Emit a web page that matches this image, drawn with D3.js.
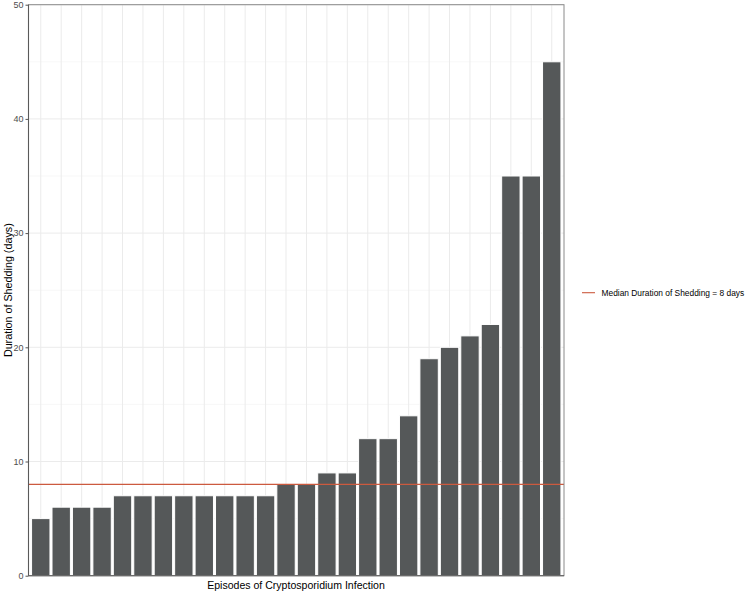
<!DOCTYPE html>
<html><head><meta charset="utf-8">
<script src="https://cdn.jsdelivr.net/npm/d3@7"></script>
<style>body{margin:0;background:#fff;} svg{display:block;font-family:"Liberation Sans",Arial,sans-serif;}</style>
</head><body>
<svg id="c" width="747" height="593"></svg>
<script>
const episodes = d3.range(1, 27).map(String);
const durations = [5,6,6,6,7,7,7,7,7,7,7,7,8,8,9,9,12,12,14,19,20,21,22,35,35,45];
const yTicks = [0,10,20,30,40,50];
const yMinor = [5,15,25,35,45];
const medianValue = 8;
const legendLabel = "Median Duration of Shedding = 8 days";
const xTitle = "Episodes of Cryptosporidium Infection";
const yTitle = "Duration of Shedding (days)";

const svg = d3.select("#c");
const L = 28.5, R = 564, T = 4.7, B = 575.7;
const n = episodes.length;
const step = (R - L) / (n - 1 + 1.2);
const xc = d3.scalePoint().domain(episodes).range([L + 0.6*step, R - 0.6*step]);
const bw = step * 0.9;
const y = d3.scaleLinear().domain([0, 50]).range([B, T]);

function fitText(sel, target) {
  const w = sel.node().getComputedTextLength();
  const fs = parseFloat(sel.style("font-size"));
  sel.style("font-size", (fs * target / w) + "px");
}

// gridlines
const g = svg.append("g");
g.selectAll(".ymin").data(yMinor).join("line").attr("x1", L).attr("x2", R)
  .attr("y1", d => y(d)).attr("y2", d => y(d)).attr("stroke", "#f2f2f2").attr("stroke-width", 0.6);
g.selectAll(".ymaj").data(yTicks).join("line").attr("x1", L).attr("x2", R)
  .attr("y1", d => y(d)).attr("y2", d => y(d)).attr("stroke", "#ebebeb").attr("stroke-width", 1);
g.selectAll(".xmaj").data(episodes).join("line").attr("y1", T).attr("y2", B)
  .attr("x1", d => xc(d)).attr("x2", d => xc(d)).attr("stroke", "#ebebeb").attr("stroke-width", 1);

// bars
svg.append("g").selectAll("rect").data(durations).join("rect")
  .attr("x", (d, i) => xc(episodes[i]) - bw/2)
  .attr("width", bw)
  .attr("y", d => y(d))
  .attr("height", d => B - y(d))
  .attr("fill", "#555859")
  .attr("stroke", "#ffffff").attr("stroke-width", 1);

// median line
svg.append("line").attr("x1", L).attr("x2", R).attr("y1", y(medianValue)).attr("y2", y(medianValue))
  .attr("stroke", "#cc5a3f").attr("stroke-width", 1.1);

// panel border
svg.append("rect").attr("x", L).attr("y", T).attr("width", R - L).attr("height", B - T)
  .attr("fill", "none").attr("stroke", "#8a8a8a").attr("stroke-width", 1);
svg.append("line").attr("x1", L).attr("x2", L).attr("y1", T).attr("y2", B).attr("stroke", "#5a5a5a").attr("stroke-width", 1.1);
svg.append("line").attr("x1", L).attr("x2", R).attr("y1", B).attr("y2", B).attr("stroke", "#5a5a5a").attr("stroke-width", 1.1);

// y axis
const ya = d3.axisLeft(y).tickValues(yTicks).tickSize(3).tickPadding(2);
const yg = svg.append("g").attr("transform", `translate(${L},0)`).call(ya);
yg.select(".domain").remove();
yg.selectAll(".tick line").attr("stroke", "#555");
yg.selectAll(".tick text").attr("fill", "#4d4d4d").style("font-size", "9px");

// titles
const xt = svg.append("text").attr("x", 296).attr("y", 588.5).attr("text-anchor", "middle")
  .style("font-size", "11px").attr("fill", "#000").text(xTitle);
fitText(xt, 178);
const yt = svg.append("text").attr("transform", `translate(11.5,${(T + B)/2}) rotate(-90)`).attr("text-anchor", "middle")
  .style("font-size", "11px").attr("fill", "#000").text(yTitle);
fitText(yt, 134);

// legend
const ly = 292.7;
svg.append("line").attr("x1", 582).attr("x2", 595).attr("y1", ly).attr("y2", ly)
  .attr("stroke", "#cc5a3f").attr("stroke-width", 1.1);
const lt = svg.append("text").attr("x", 601.5).attr("y", ly + 3.2).style("font-size", "9px").attr("fill", "#000").text(legendLabel);
fitText(lt, 143);
</script>
</body></html>
